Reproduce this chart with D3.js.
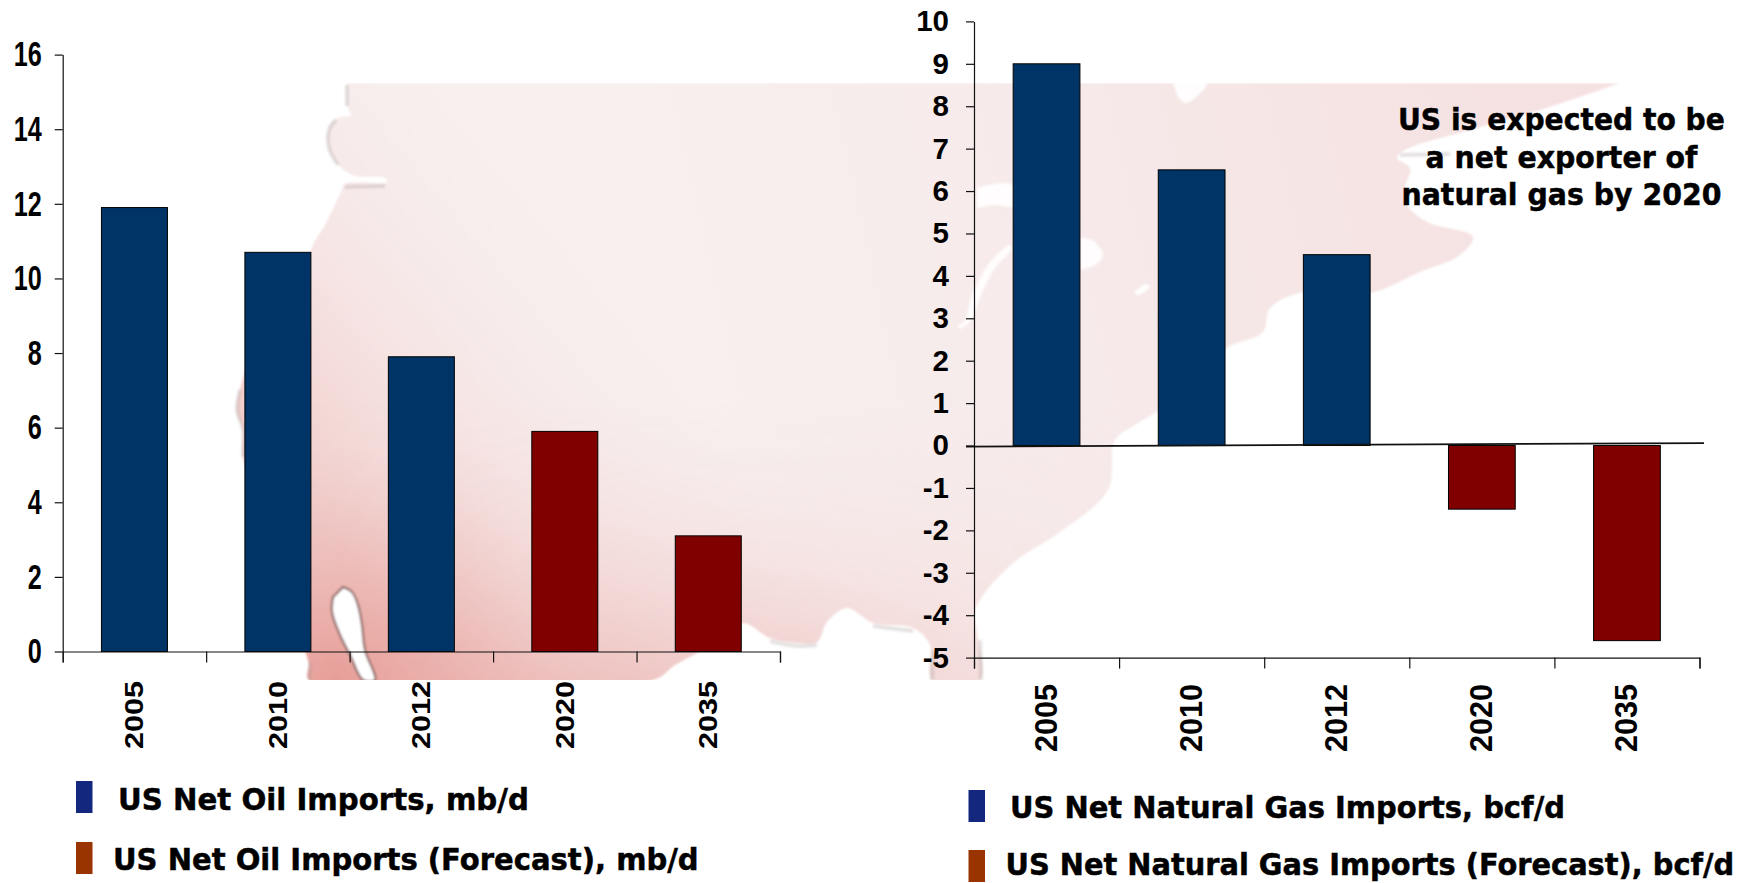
<!DOCTYPE html>
<html>
<head>
<meta charset="utf-8">
<title>US Net Oil and Natural Gas Imports</title>
<script src="https://cdn.jsdelivr.net/npm/d3@7"></script>
<style>
  html, body { margin: 0; padding: 0; background: #fff; overflow: hidden; }
  svg { display: block; }
</style>
</head>
<body>
<svg id="chart" width="1739" height="883"></svg>
<script>
// Data
const years = ["2005", "2010", "2012", "2020", "2035"];
const forecastYears = ["2020", "2035"];
const oilImports = [11.9, 10.7, 7.9, 5.9, 3.1];
const gasImports = [9, 6.5, 4.5, -1.5, -4.6];
const oilTicks = [0, 2, 4, 6, 8, 10, 12, 14, 16];
const gasTicks = [-5, -4, -3, -2, -1, 0, 1, 2, 3, 4, 5, 6, 7, 8, 9, 10];
const oilLegend = ["US Net Oil Imports, mb/d", "US Net Oil Imports (Forecast), mb/d"];
const gasLegend = ["US Net Natural Gas Imports, bcf/d", "US Net Natural Gas Imports (Forecast), bcf/d"];
const noteLines = ["US is expected to be", "a net exporter of", "natural gas by 2020"];

// Backdrop map of North America: outline and inland water
const coastline = [
  [347,83],[347,106],[351,115],[338,118],[330,125],[328,145],[336,162],[352,175],[385,178],
  [387,182],[345,184],[341,192],[325,225],[313,245],[300,285],[280,330],[250,362],[241,385],
  [237,410],[243,430],[243,457],[255,490],[285,580],[305,650],[309,664],[309,680],
  [653,680],[675,665],[697,653],[720,638],[743,623],[770,638],[797,643],[817,642],[827,622],
  [847,608],[873,623],[913,628],[930,645],[932,680],[980,680],[977,633],[974,613],[987,590],
  [1017,560],[1060,532],[1108,490],[1115,440],[1135,425],[1159,410],[1227,348],[1263,332],
  [1270,308],[1303,292],[1370,293],[1420,272],[1460,255],[1473,237],[1427,222],[1407,205],
  [1405,188],[1410,168],[1397,158],[1405,150],[1470,130],[1540,110],[1620,83]
];
const gulfOfCalifornia = [
  [343,587],[352,592],[358,605],[362,625],[365,650],[375,680],[363,680],[350,655],[340,635],[332,612],[333,597]
];
const lakes = [
  [[977,188],[1000,183],[1014,186],[1014,206],[995,205],[977,208]],
  [[1080,238],[1092,240],[1103,255],[1095,265],[1080,270]],
  [[1173,83],[1207,83],[1197,96],[1185,103],[1177,95]],
  [[957,325],[964,322],[972,295],[990,262],[1010,245],[1011,250],[995,268],[980,298],[970,322],[960,329]],
  [[1134,292],[1146,284],[1150,287],[1138,296]]
];
const shadedShores = [
  [[240,390],[237,410],[243,430],[243,457]],
  [[347,85],[347,106]],
  [[336,120],[329,130],[329,148],[338,165]],
  [[345,187],[385,186]],
  [[1400,155],[1450,154]],
  [[770,641],[797,646],[817,645]],
  [[873,626],[913,631]],
  [[933,650],[932,680]],
  [[980,640],[981,680]],
  [[310,662],[310,680]]
];

const svg = d3.select("#chart");
const defs = svg.append("defs");

function gradient(type, id, attrs, stops) {
  const g = defs.append(type).attr("id", id).attr("gradientUnits", "userSpaceOnUse");
  Object.entries(attrs).forEach(([k, v]) => g.attr(k, v));
  stops.forEach(([o, c, a]) => g.append("stop").attr("offset", o).attr("stop-color", c).attr("stop-opacity", a));
}

// Pale base tint, then washes from the south coast, the west coast and the south-west corner
gradient("linearGradient", "baseTint", { x1: 700, y1: 300, x2: 1500, y2: 120 }, [
  [0, "#f8efef", 1], [0.5, "#f7e9e9", 1], [1, "#f5e1e1", 1]
]);
gradient("linearGradient", "southWash", { x1: 600, y1: 690, x2: 600, y2: 400 }, [
  [0, "#e9aaa6", 0.68], [0.4, "#eec4c2", 0.4], [1, "#f5e2e2", 0]
]);
gradient("linearGradient", "southFade", { x1: 300, y1: 0, x2: 1150, y2: 0 }, [
  [0, "#fff", 1], [0.6, "#fff", 0.7], [1, "#fff", 0]
]);
gradient("linearGradient", "westWash", { x1: 270, y1: 470, x2: 560, y2: 230 }, [
  [0, "#eec0bc", 0.75], [0.5, "#f2d3d1", 0.35], [1, "#f5e2e2", 0]
]);
gradient("radialGradient", "warmPool", { cx: 335, cy: 680, r: 240 }, [
  [0, "#e0766a", 0.8], [0.45, "#e69a92", 0.45], [1, "#efc8c6", 0]
]);

defs.append("filter").attr("id", "soft")
  .attr("x", "-5%").attr("y", "-5%").attr("width", "110%").attr("height", "110%")
  .append("feGaussianBlur").attr("stdDeviation", 1.3);
defs.append("clipPath").attr("id", "mapFrame")
  .append("rect").attr("x", 0).attr("y", 83).attr("width", 1739).attr("height", 597);

const outline = d3.line().curve(d3.curveCatmullRom.alpha(0.5));
const coastPath = outline(coastline) + "Z";
const map = svg.append("g").attr("clip-path", "url(#mapFrame)")
  .append("g").attr("filter", "url(#soft)");
["baseTint", "westWash", "warmPool"].forEach(id =>
  map.append("path").attr("d", coastPath).attr("fill", `url(#${id})`));
// South coast wash is masked so that it dies out towards the Atlantic
const southMask = defs.append("mask").attr("id", "southMask").attr("maskUnits", "userSpaceOnUse")
  .attr("x", 0).attr("y", 0).attr("width", 1739).attr("height", 883);
southMask.append("rect").attr("width", 1739).attr("height", 883).attr("fill", "url(#southFade)");
map.append("path").attr("d", coastPath).attr("fill", "url(#southWash)").attr("mask", "url(#southMask)");
map.selectAll("path.shore").data(shadedShores).join("path").attr("class", "shore")
  .attr("d", d => outline(d)).attr("fill", "none")
  .attr("stroke", "#a09898").attr("stroke-opacity", 0.28).attr("stroke-width", 4);
map.append("path").attr("d", outline(gulfOfCalifornia) + "Z").attr("fill", "#fff")
  .attr("stroke", "#7d5a58").attr("stroke-opacity", 0.75).attr("stroke-width", 2.5);
map.selectAll("path.lake").data(lakes).join("path").attr("class", "lake")
  .attr("d", d => outline(d) + "Z").attr("fill", "#fff").attr("fill-opacity", 0.9);

const ARIAL = "'Liberation Sans', Arial, sans-serif";
const LABEL = "'DejaVu Sans', Verdana, sans-serif";
const barColor = y => forecastYears.includes(y) ? "#800000" : "#003366";

// Writes one bold label squeezed horizontally to the wanted width
function fittedLabel(x, y, label, width) {
  const t = svg.append("text")
    .attr("font-family", LABEL).attr("font-weight", 700).attr("font-size", 31)
    .attr("fill", "#000").attr("stroke", "#000").attr("stroke-width", 0.5)
    .text(label);
  const natural = t.node().getComputedTextLength();
  t.attr("transform", `translate(${x},${y}) scale(${width / natural},1)`);
  return t;
}

// Draws the year axis, the value axis and the bars of one panel
function panel(cfg) {
  const x = d3.scaleBand().domain(years).range(cfg.xRange).paddingInner(0.54).paddingOuter(0.27);
  const y = d3.scaleLinear().domain(cfg.yDomain).range(cfg.yRange);
  const g = svg.append("g");

  g.selectAll("rect.bar").data(cfg.values).join("rect").attr("class", "bar")
    .attr("x", (d, i) => x(years[i]))
    .attr("width", x.bandwidth())
    .attr("y", d => y(Math.max(d, 0)))
    .attr("height", d => Math.abs(y(d) - y(0)))
    .attr("fill", (d, i) => barColor(years[i]))
    .attr("stroke", "#000").attr("stroke-width", 1);

  const step = x.step();
  const boundaries = d3.range(years.length + 1).map(i => cfg.xRange[0] + i * step);
  const xAxis = g.append("g").attr("transform", `translate(0,${cfg.yRange[0]})`)
    .call(d3.axisBottom(d3.scaleLinear().domain(cfg.xRange).range(cfg.xRange))
      .tickValues(boundaries).tickSize(11).tickFormat(""));
  xAxis.selectAll("path,line").attr("stroke", "#111").attr("stroke-width", 1.2);

  const yAxis = g.append("g").attr("transform", `translate(${cfg.xRange[0]},0)`)
    .call(d3.axisLeft(y).tickValues(cfg.ticks).tickSize(8).tickPadding(cfg.tickGap)
      .tickSizeOuter(0).tickFormat(d => String(d)));
  yAxis.selectAll("path,line").attr("stroke", "#111").attr("stroke-width", 1.2);
  yAxis.selectAll("text")
    .attr("font-family", ARIAL).attr("font-weight", 700)
    .attr("font-size", cfg.tickFont).attr("fill", "#000")
    .each(function () {
      if (cfg.digitWidth) {
        const n = this.textContent.length;
        d3.select(this).attr("textLength", n * cfg.digitWidth).attr("lengthAdjust", "spacingAndGlyphs");
      }
    });

  g.selectAll("text.year").data(years).join("text").attr("class", "year")
    .attr("transform", d => `translate(${x(d) + x.bandwidth() / 2 + cfg.yearShift},${cfg.yearBase}) rotate(-90)`)
    .attr("font-family", ARIAL).attr("font-weight", 700)
    .attr("font-size", cfg.yearFont).attr("fill", "#000")
    .attr("textLength", cfg.yearLength).attr("lengthAdjust", "spacingAndGlyphs")
    .text(d => d);

  return { g, x, y };
}

// Swatch-and-label legend under a panel
function legend(labels, rows) {
  const colors = ["#13277f", "#993300"];
  labels.forEach((label, i) => {
    const r = rows[i];
    svg.append("rect").attr("x", r.sx).attr("y", r.sy).attr("width", 16.5).attr("height", 32).attr("fill", colors[i]);
    fittedLabel(r.tx, r.ty, label, r.len);
  });
}

panel({
  values: oilImports, ticks: oilTicks, yDomain: [0, 16], yRange: [651.5, 54.6], xRange: [62.7, 780],
  tickFont: 35, digitWidth: 14, tickGap: 13, yearFont: 25, yearLength: 68, yearShift: 9, yearBase: 749
});
legend(oilLegend, [
  { sx: 76, sy: 781, tx: 118, ty: 810, len: 411 },
  { sx: 76, sy: 842, tx: 113, ty: 870, len: 586 }
]);

const gas = panel({
  values: gasImports, ticks: gasTicks, yDomain: [-5, 10], yRange: [657.6, 21.4], xRange: [974, 1699.5],
  tickFont: 29.5, digitWidth: 0, tickGap: 17, yearFont: 31, yearLength: 68, yearShift: 10, yearBase: 752
});
// The zero baseline across the gas panel
gas.g.append("line")
  .attr("x1", 966).attr("x2", 1704)
  .attr("y1", gas.y(0) + 1).attr("y2", gas.y(0) - 2.5)
  .attr("stroke", "#111").attr("stroke-width", 1.8);
legend(gasLegend, [
  { sx: 968.5, sy: 790, tx: 1010, ty: 818, len: 555 },
  { sx: 968.5, sy: 850, tx: 1005.5, ty: 875, len: 729 }
]);

// Annotation at the top right of the gas panel, each line centred on the same axis
const noteCentre = 1561.5;
const noteBase = [130, 168, 205];
const noteLen = [327, 272, 320];
noteLines.forEach((line, i) => {
  fittedLabel(noteCentre - noteLen[i] / 2, noteBase[i], line, noteLen[i]);
});
</script>
</body>
</html>
